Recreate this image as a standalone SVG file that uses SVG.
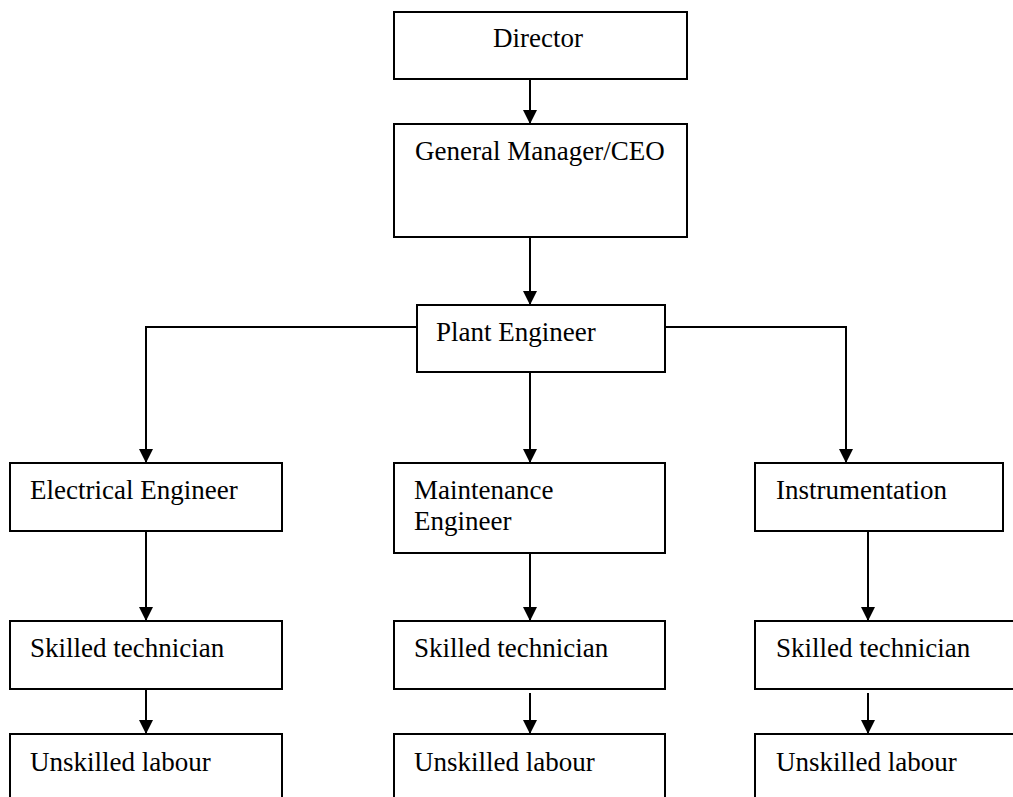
<svg xmlns="http://www.w3.org/2000/svg" width="1013" height="797" viewBox="0 0 1013 797">
<defs>
<style>
.box{fill:#fff;stroke:#000;stroke-width:2}
.t{font-family:"Liberation Serif","Times New Roman",serif;font-size:27px;fill:#000}
.c{fill:none;stroke:#000;stroke-width:2}
</style>
<marker id="ah" viewBox="0 0 14 14" refX="14" refY="7" markerWidth="14" markerHeight="14" markerUnits="userSpaceOnUse" orient="auto">
<path d="M0,0 L14,7 L0,14 Z" fill="#000"/>
</marker>
</defs>
<rect width="1013" height="797" fill="#fff"/>
<g id="connectors">
<line class="c" x1="530" y1="79" x2="530" y2="124" marker-end="url(#ah)"/>
<line class="c" x1="530" y1="237" x2="530" y2="305" marker-end="url(#ah)"/>
<polyline class="c" points="417,327 146,327 146,463" marker-end="url(#ah)"/>
<polyline class="c" points="665,327 846,327 846,463" marker-end="url(#ah)"/>
<line class="c" x1="530" y1="372" x2="530" y2="463" marker-end="url(#ah)"/>
<line class="c" x1="146" y1="531" x2="146" y2="621" marker-end="url(#ah)"/>
<line class="c" x1="146" y1="689" x2="146" y2="734" marker-end="url(#ah)"/>
<line class="c" x1="530" y1="553" x2="530" y2="621" marker-end="url(#ah)"/>
<line class="c" x1="530" y1="693" x2="530" y2="734" marker-end="url(#ah)"/>
<line class="c" x1="868" y1="531" x2="868" y2="621" marker-end="url(#ah)"/>
<line class="c" x1="868" y1="693" x2="868" y2="734" marker-end="url(#ah)"/>
</g>
<g id="director"><rect class="box" x="394" y="12" width="293" height="67"/><text class="t" x="493" y="47">Director</text></g>
<g id="gm"><rect class="box" x="394" y="124" width="293" height="113"/><text class="t" x="415" y="160">General Manager/CEO</text></g>
<g id="plant"><rect class="box" x="417" y="305" width="248" height="67"/><text class="t" x="436" y="341">Plant Engineer</text></g>
<g id="electrical"><rect class="box" x="10" y="463" width="272" height="68"/><text class="t" x="30" y="499">Electrical Engineer</text></g>
<g id="maintenance"><rect class="box" x="394" y="463" width="271" height="90"/><text class="t" x="414" y="499">Maintenance</text><text class="t" x="414" y="530">Engineer</text></g>
<g id="instrumentation"><rect class="box" x="755" y="463" width="248" height="68"/><text class="t" x="776" y="499">Instrumentation</text></g>
<g id="skilled1"><rect class="box" x="10" y="621" width="272" height="68"/><text class="t" x="30" y="657">Skilled technician</text></g>
<g id="skilled2"><rect class="box" x="394" y="621" width="271" height="68"/><text class="t" x="414" y="657">Skilled technician</text></g>
<g id="skilled3"><rect class="box" x="755" y="621" width="270" height="68"/><text class="t" x="776" y="657">Skilled technician</text></g>
<g id="unskilled1"><rect class="box" x="10" y="734" width="272" height="80"/><text class="t" x="30" y="771">Unskilled labour</text></g>
<g id="unskilled2"><rect class="box" x="394" y="734" width="271" height="80"/><text class="t" x="414" y="771">Unskilled labour</text></g>
<g id="unskilled3"><rect class="box" x="755" y="734" width="270" height="80"/><text class="t" x="776" y="771">Unskilled labour</text></g>
</svg>
